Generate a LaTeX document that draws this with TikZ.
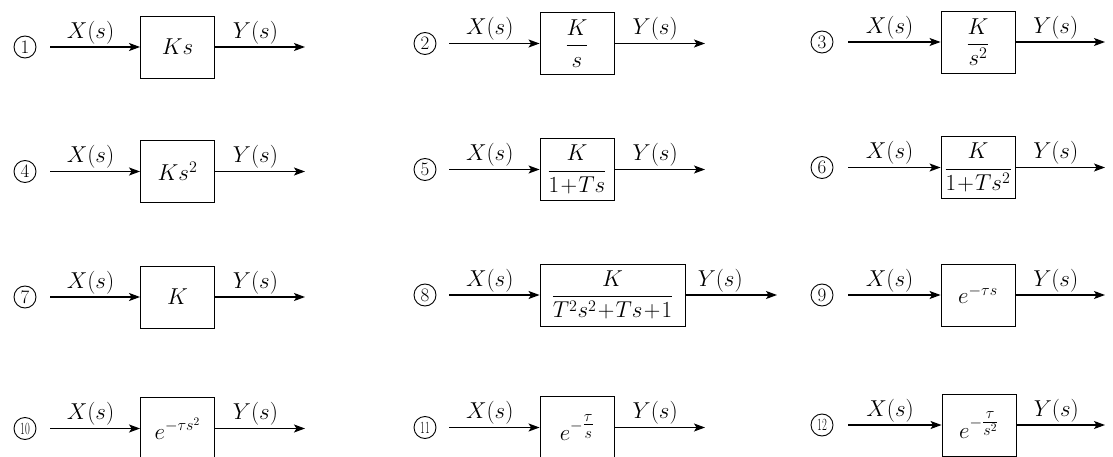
\RequirePackage{fix-cm}
\documentclass[tikz,border=0pt]{standalone}
\usetikzlibrary{arrows.meta}
\newcommand\lblfont{\fontsize{23}{25}\selectfont}
\tikzset{
  blk/.style={draw, line width=0.9pt, minimum width=74pt, minimum height=62pt, inner sep=0pt, font=\lblfont},
  sig/.style={line width=1.2pt, -{Stealth[length=11pt,width=8pt,inset=2.5pt]}},
  num/.style={circle, draw, line width=0.9pt, minimum size=22pt, inner sep=0pt, font=\fontsize{19}{19}\selectfont},
  lab/.style={above, inner sep=2.5pt, font=\lblfont, pos=0.45}
}
\newcommand\sq[1]{\scalebox{0.55}[0.9]{#1}}
\begin{document}
\begin{tikzpicture}[x=1pt,y=-1pt]
\useasboundingbox (0,0) rectangle (1113,457);
% ---------- row 1 ----------
\node[num] (n1) at (25,47) {1};
\node[blk] (b1) at (177.5,47) {$Ks$};
\coordinate (s1) at (50,47); \coordinate (e1) at (305,47);
\draw[sig] (s1) -- node[lab]{$X(s)$} (b1);
\draw[sig] (b1) -- node[lab]{$Y(s)$} (e1);

\node[num] (n2) at (425,43.5) {2};
\node[blk] (b2) at (577,43.5) {$\displaystyle\frac{K}{s}$};
\coordinate (s2) at (449,43.5); \coordinate (e2) at (705,43.5);
\draw[sig] (s2) -- node[lab]{$X(s)$} (b2);
\draw[sig] (b2) -- node[lab]{$Y(s)$} (e2);

\node[num] (n3) at (822,42) {3};
\node[blk] (b3) at (978,42) {$\displaystyle\frac{K}{s^2}$};
\coordinate (s3) at (848,42); \coordinate (e3) at (1105,42);
\draw[sig] (s3) -- node[lab]{$X(s)$} (b3);
\draw[sig] (b3) -- node[lab]{$Y(s)$} (e3);
% ---------- row 2 ----------
\node[num] (n4) at (25,171.5) {4};
\node[blk] (b4) at (177.5,171.5) {$Ks^2$};
\coordinate (s4) at (50,171.5); \coordinate (e4) at (305,171.5);
\draw[sig] (s4) -- node[lab]{$X(s)$} (b4);
\draw[sig] (b4) -- node[lab]{$Y(s)$} (e4);

\node[num] (n5) at (425,169.5) {5};
\node[blk] (b5) at (577,169.5) {$\displaystyle\frac{K}{1\!+\!Ts}$};
\coordinate (s5) at (449,169.5); \coordinate (e5) at (705,169.5);
\draw[sig] (s5) -- node[lab]{$X(s)$} (b5);
\draw[sig] (b5) -- node[lab]{$Y(s)$} (e5);

\node[num] (n6) at (822,167.5) {6};
\node[blk] (b6) at (978,167.5) {$\displaystyle\frac{K}{1\!+\!Ts^2}$};
\coordinate (s6) at (848,167.5); \coordinate (e6) at (1105,167.5);
\draw[sig] (s6) -- node[lab]{$X(s)$} (b6);
\draw[sig] (b6) -- node[lab]{$Y(s)$} (e6);
% ---------- row 3 ----------
\node[num] (n7) at (25,297) {7};
\node[blk] (b7) at (177.5,297) {$K$};
\coordinate (s7) at (50,297); \coordinate (e7) at (305,297);
\draw[sig] (s7) -- node[lab]{$X(s)$} (b7);
\draw[sig] (b7) -- node[lab]{$Y(s)$} (e7);

\node[num] (n8) at (425,295) {8};
\node[blk, minimum width=145pt] (b8) at (612.5,295) {$\displaystyle\frac{K}{T^2s^2\!+\!Ts\!+\!1}$};
\coordinate (s8) at (449,295); \coordinate (e8) at (777,295);
\draw[sig] (s8) -- node[lab]{$X(s)$} (b8);
\draw[sig] (b8) -- node[lab, pos=0.38]{$Y(s)$} (e8);

\node[num] (n9) at (822,295) {9};
\node[blk] (b9) at (978,295) {$e^{-\tau s}$};
\coordinate (s9) at (848,295); \coordinate (e9) at (1105,295);
\draw[sig] (s9) -- node[lab]{$X(s)$} (b9);
\draw[sig] (b9) -- node[lab]{$Y(s)$} (e9);
% ---------- row 4 ----------
\node[num] (n10) at (25,428.5) {\sq{10}};
\node[blk] (b10) at (177.5,428.5) {$e^{-\tau s^2}$};
\coordinate (s10) at (50,428.5); \coordinate (e10) at (305,428.5);
\draw[sig] (s10) -- node[lab]{$X(s)$} (b10);
\draw[sig] (b10) -- node[lab]{$Y(s)$} (e10);

\node[num] (n11) at (425,427.5) {\sq{11}};
\node[blk] (b11) at (577,427.5) {$e^{-{\textstyle\frac{\tau}{s}}}$};
\coordinate (s11) at (449,427.5); \coordinate (e11) at (705,427.5);
\draw[sig] (s11) -- node[lab]{$X(s)$} (b11);
\draw[sig] (b11) -- node[lab]{$Y(s)$} (e11);

\node[num] (n12) at (822,425) {\sq{12}};
\node[blk] (b12) at (979,425) {$e^{-{\textstyle\frac{\tau}{s^2}}}$};
\coordinate (s12) at (848,425); \coordinate (e12) at (1105,425);
\draw[sig] (s12) -- node[lab]{$X(s)$} (b12);
\draw[sig] (b12) -- node[lab]{$Y(s)$} (e12);
\end{tikzpicture}
\end{document}
